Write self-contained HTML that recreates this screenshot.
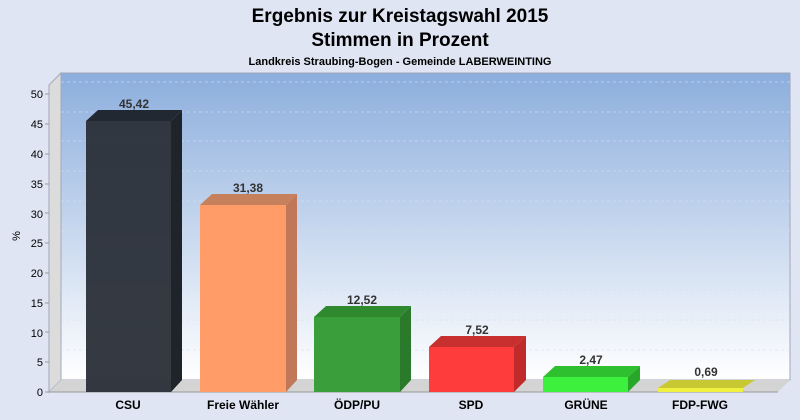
<!DOCTYPE html>
<html><head><meta charset="utf-8"><style>
body{margin:0;background:#dfe5f3;}
svg{display:block;font-family:"Liberation Sans",Arial,sans-serif;}
</style></head><body>
<svg width="800" height="420" viewBox="0 0 800 420">
<defs>
<linearGradient id="bg" x1="0" y1="0" x2="0" y2="1">
<stop offset="0" stop-color="#8caedd"/><stop offset="1" stop-color="#ffffff"/>
</linearGradient>
</defs>
<rect width="800" height="420" fill="#dfe5f3"/>
<text x="400" y="22" text-anchor="middle" font-size="19" font-weight="bold">Ergebnis zur Kreistagswahl 2015</text>
<text x="400" y="46" text-anchor="middle" font-size="19" font-weight="bold">Stimmen in Prozent</text>
<text x="400" y="65" text-anchor="middle" font-size="11" font-weight="bold">Landkreis Straubing-Bogen - Gemeinde LABERWEINTING</text>
<rect x="61" y="73" width="729" height="307" fill="url(#bg)" stroke="#a0a8b8" stroke-width="1"/>
<polygon points="49,85 61,73 61,380 49,392" fill="#dcdcdc" stroke="#a0a8b8"/>
<polygon points="49,392 61,380 790,380 778,392" fill="#d4d4d4"/>
<line x1="49" y1="392" x2="778" y2="392" stroke="#999"/>
<g stroke="#d8dee8" stroke-opacity="0.6" stroke-dasharray="3,3" stroke-width="1">
<line x1="61" y1="350" x2="790" y2="350"/><line x1="61" y1="320" x2="790" y2="320"/>
<line x1="61" y1="290" x2="790" y2="290"/><line x1="61" y1="261" x2="790" y2="261"/>
<line x1="61" y1="231" x2="790" y2="231"/><line x1="61" y1="201" x2="790" y2="201"/>
<line x1="61" y1="171" x2="790" y2="171"/><line x1="61" y1="141" x2="790" y2="141"/>
<line x1="61" y1="112" x2="790" y2="112"/><line x1="61" y1="82" x2="790" y2="82"/>
</g>
<g font-size="11" text-anchor="end">
<text x="43" y="396">0</text><text x="43" y="366">5</text><text x="43" y="337">10</text>
<text x="43" y="307">15</text><text x="43" y="277">20</text><text x="43" y="247">25</text>
<text x="43" y="218">30</text><text x="43" y="188">35</text><text x="43" y="158">40</text>
<text x="43" y="128">45</text><text x="43" y="98">50</text>
</g>
<g stroke="#999"><line x1="45" y1="392" x2="49" y2="392"/><line x1="45" y1="362" x2="49" y2="362"/><line x1="45" y1="332" x2="49" y2="332"/><line x1="45" y1="303" x2="49" y2="303"/><line x1="45" y1="273" x2="49" y2="273"/><line x1="45" y1="243" x2="49" y2="243"/><line x1="45" y1="213" x2="49" y2="213"/><line x1="45" y1="184" x2="49" y2="184"/><line x1="45" y1="154" x2="49" y2="154"/><line x1="45" y1="124" x2="49" y2="124"/><line x1="45" y1="94" x2="49" y2="94"/></g>
<text x="20" y="236" font-size="11" transform="rotate(-90 20 236)" text-anchor="middle">%</text>
<g>
<polygon points="86,121 98,110 182,110 171,121" fill="#222831"/>
<polygon points="171,121 182,110 182,380 171,392" fill="#1f242b"/>
<rect x="86" y="121" width="85" height="271" fill="#2a2f38" fill-opacity="0.95"/>
<polygon points="200,205 212,194 297,194 286,205" fill="#c7805c"/>
<polygon points="286,205 297,194 297,380 286,392" fill="#c07858"/>
<rect x="200" y="205" width="86" height="187" fill="#ff9c68"/>
<polygon points="314,317 326,306 411,306 400,317" fill="#2f8a2f"/>
<polygon points="400,317 411,306 411,380 400,392" fill="#2b7a2b"/>
<rect x="314" y="317" width="86" height="75" fill="#3a9e3a"/>
<polygon points="429,347 441,336 526,336 514,347" fill="#c83030"/>
<polygon points="514,347 526,336 526,380 514,392" fill="#c02a2a"/>
<rect x="429" y="347" width="85" height="45" fill="#ff3c3c"/>
<polygon points="543,377 555,366 640,366 628,377" fill="#2fc02f"/>
<polygon points="628,377 640,366 640,380 628,392" fill="#28a828"/>
<rect x="543" y="377" width="85" height="15" fill="#3ef03e"/>
<polygon points="658,388 670,380 755,380 743,388" fill="#c8c832"/>
<rect x="658" y="388" width="85" height="4" fill="#f0f040"/>
</g>
<g font-size="12" font-weight="bold" text-anchor="middle" fill="#333">
<text x="134" y="108">45,42</text><text x="248" y="192">31,38</text>
<text x="362" y="304">12,52</text><text x="477" y="334">7,52</text>
<text x="591" y="364">2,47</text><text x="706" y="376">0,69</text>
</g>
<g font-size="12" font-weight="bold" text-anchor="middle">
<text x="128" y="409">CSU</text><text x="243" y="409">Freie Wähler</text>
<text x="357" y="409">ÖDP/PU</text><text x="471" y="409">SPD</text>
<text x="586" y="409">GRÜNE</text><text x="700" y="409">FDP-FWG</text>
</g>
</svg>
</body></html>
